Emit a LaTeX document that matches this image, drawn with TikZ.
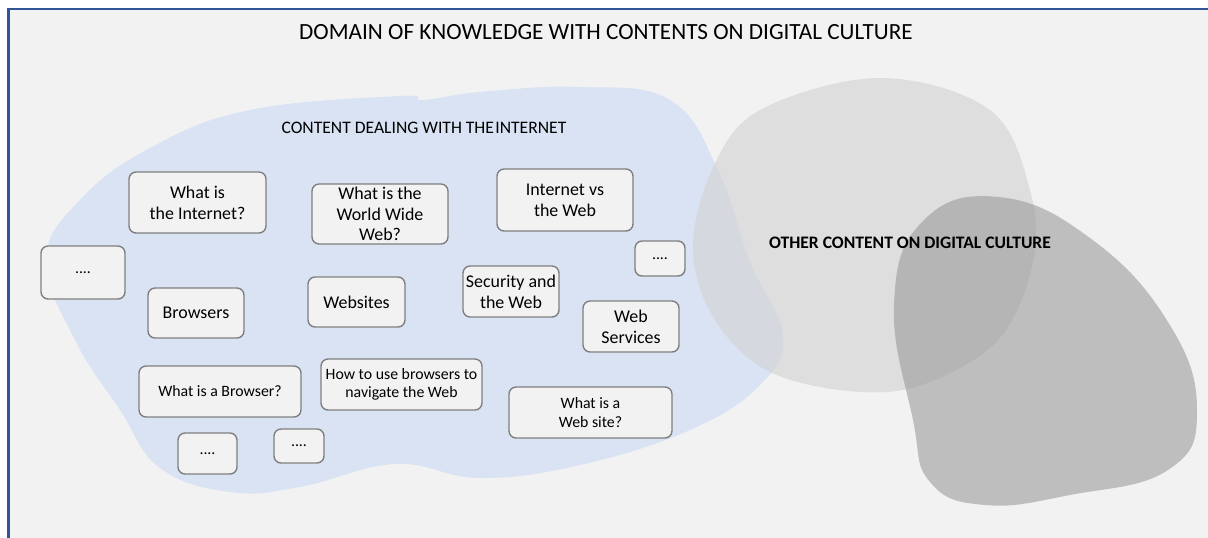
\documentclass[tikz,border=0pt]{standalone}
\usepackage{fontspec}
\setmainfont{Carlito}
\usepackage{tikz}
\usetikzlibrary{calc}
\usetikzlibrary{backgrounds}
\usetikzlibrary{positioning}
\definecolor{panelbg}{HTML}{F2F2F2}
\definecolor{panelline}{HTML}{2F5597}
\definecolor{netblue}{HTML}{DAE3F3}
\definecolor{topicline}{HTML}{7F7F7F}
\tikzset{topic/.style={rectangle,rounded corners=4pt,fill=panelbg,draw=topicline,line width=0.8pt,inner sep=0pt,align=center,font=\fontsize{10.2}{11.8}\selectfont}}
\tikzset{smalltopic/.style={topic,font=\fontsize{9}{10.6}\selectfont}}
\tikzset{dots/.style={topic,font=\fontsize{9}{10.6}\selectfont}}
\tikzset{lightblob/.style={fill={rgb,255:red,210;green,210;blue,210},fill opacity=0.6}}
\tikzset{darkblob/.style={fill={rgb,255:red,149;green,149;blue,149},fill opacity=0.55}}

\begin{document}
\begin{tikzpicture}[x=0.02cm,y=-0.02cm]

\clip (0,0) rectangle (1208,538);
\fill[white] (0,0) rectangle (1208,538);
\fill[panelbg] (8.5,9) rectangle (1230,560);
\draw[panelline,line width=1.3pt] (8.5,560) -- (8.5,9) -- (1230,9);

% internet area
\fill[netblue] plot[smooth cycle,tension=0.7] coordinates {
  (46,260) (80,200) (150,148) (250,110) (400,96) (423,100)
  (480,92) (580,87) (670,100) (718,170) (750,262) (783,335)
  (760,385) (690,430) (580,465) (480,478) (395,464) (300,487)
  (230,492) (160,468) (120,410) (75,340)};

\node[font=\fontsize{10}{12}\selectfont] (net) at (424,128) {CONTENT DEALING WITH THE\hspace{0.08em}INTERNET};

\node[topic,minimum width=2.74cm,minimum height=1.22cm] (internet) at (197.5,202.5) {What is\\the Internet?};
\node[topic,minimum width=2.72cm,minimum height=1.20cm] (www) at (380,214) {What is the\\World Wide\\Web?};
\node[topic,minimum width=2.72cm,minimum height=1.24cm] (versus) at (565,200) {Internet vs\\the Web};
\node[topic,minimum width=1.92cm,minimum height=1.02cm] (security) at (511,291.5) {Security and\\the Web};
\node[topic,minimum width=1.92cm,minimum height=1.02cm] (services) at (631,326.5) {Web\\Services};
\node[topic,minimum width=1.92cm,minimum height=1.00cm] (browsers) at (196,313) {Browsers};
\node[topic,minimum width=1.94cm,minimum height=1.00cm] (websites) at (356.5,302) {Websites};
\node[smalltopic,minimum width=3.24cm,minimum height=1.02cm] (browser) at (220,391.5) {What is a Browser?};
\node[smalltopic,minimum width=3.22cm,minimum height=1.02cm] (howto) at (401.5,384.5) {How to use browsers to\\navigate the Web};
\node[smalltopic,minimum width=3.26cm,minimum height=1.02cm] (website) at (590.5,412.5) {What is a\\Web site?};

\node[dots,minimum width=1.68cm,minimum height=1.06cm] (moreL) at (83,272.5) {....};
\node[dots,minimum width=1.00cm,minimum height=0.70cm] (moreR) at (660,258.5) {....};
\node[dots,minimum width=1.18cm,minimum height=0.82cm] (moreA) at (207.5,453.5) {....};
\node[dots,minimum width=1.00cm,minimum height=0.68cm] (moreB) at (299,446) {....};

% other digital culture
\fill[lightblob] plot[smooth cycle,tension=0.6] coordinates {
  (880,78) (990,110) (1030,190) (1033,262) (1000,338) (930,382)
  (860,392) (770,372) (715,320) (693,250) (712,170) (760,110)};
\fill[darkblob] plot[smooth cycle,tension=0.75] coordinates {
  (998,197) (1090,238) (1168,322) (1197,410) (1168,470) (1070,495)
  (985,505) (930,482) (913,420) (894,305) (922,222)};

\node[font=\bfseries\fontsize{10}{12}\selectfont] (other) at (910,243) {OTHER CONTENT ON DIGITAL CULTURE};

\node[font=\fontsize{13.2}{15}\selectfont] (domain) at (606,32) {DOMAIN OF KNOWLEDGE WITH CONTENTS ON DIGITAL CULTURE};

\end{tikzpicture}
\end{document}
